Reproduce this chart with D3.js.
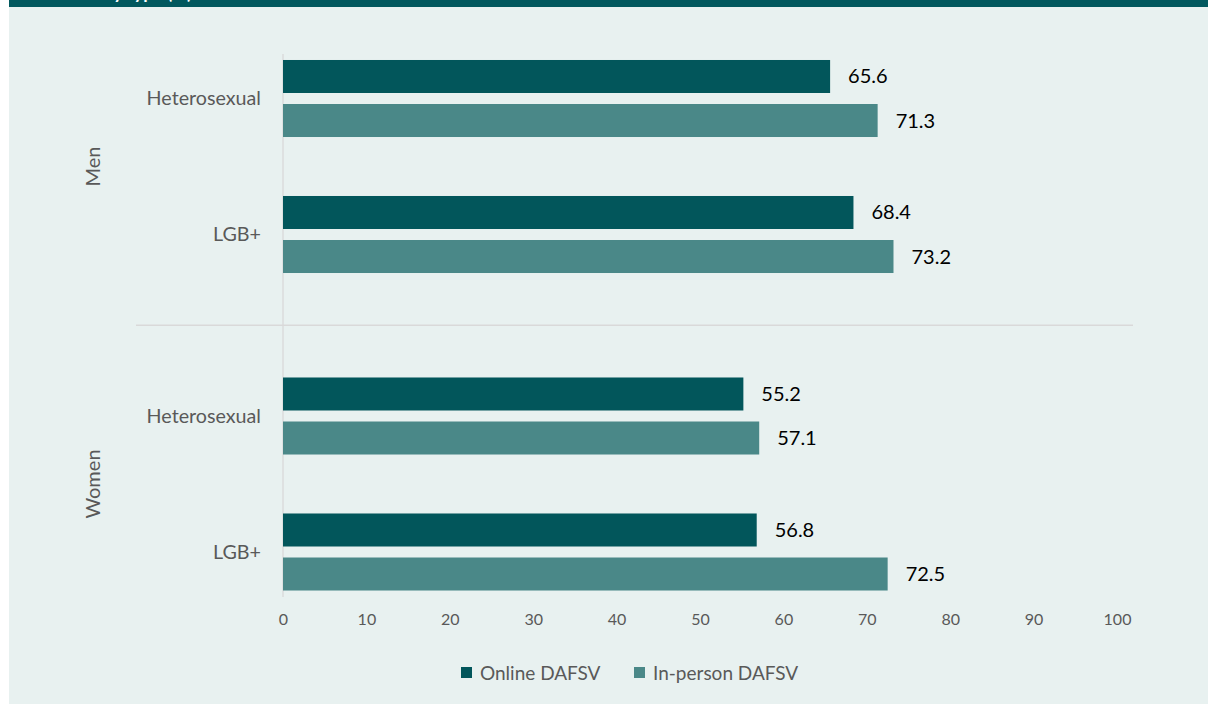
<!DOCTYPE html>
<html>
<head>
<meta charset="utf-8">
<script src="https://cdn.jsdelivr.net/npm/d3@7"></script>
<style>
  html, body { margin: 0; padding: 0; background: #ffffff; }
  svg { display: block; }
  text { font-family: Lato, "Open Sans", sans-serif; }
</style>
</head>
<body>
<div id="chart"></div>
<script>
// Groups, sub-categories and series
const groups = ["Men", "Women"];
const subgroups = ["Heterosexual", "LGB+"];
const seriesNames = ["Online DAFSV", "In-person DAFSV"];
const seriesColors = ["#02565b", "#4a8888"];

// Percentages per series, ordered Men/Hetero, Men/LGB+, Women/Hetero, Women/LGB+
const onlineValues = [65.6, 68.4, 55.2, 56.8];
const inPersonValues = [71.3, 73.2, 57.1, 72.5];

const xTicks = [0, 10, 20, 30, 40, 50, 60, 70, 80, 90, 100];

const rows = [];
groups.forEach((g, gi) => {
  subgroups.forEach((s, si) => {
    const idx = gi * subgroups.length + si;
    rows.push({ group: g, sub: s, values: [onlineValues[idx], inPersonValues[idx]] });
  });
});

const W = 1208, H = 704;
const svg = d3.select("#chart").append("svg").attr("width", W).attr("height", H);

// Panel background and header band
svg.append("rect").attr("x", 9).attr("y", 0).attr("width", W - 9).attr("height", H).attr("fill", "#e8f1f0");
svg.append("rect").attr("x", 9).attr("y", 0).attr("width", W - 9).attr("height", 7).attr("fill", "#01585e");
svg.append("clipPath").attr("id", "band-clip")
  .append("rect").attr("x", 9).attr("y", 0).attr("width", W - 9).attr("height", 7);
svg.append("text")
  .attr("clip-path", "url(#band-clip)")
  .attr("x", 192).attr("y", -1)
  .attr("text-anchor", "end")
  .attr("fill", "#ffffff")
  .attr("font-weight", "bold")
  .attr("font-size", 18)
  .text("DAFSV by type (%)");

// Scales
const x = d3.scaleLinear().domain([0, 100]).range([283, 1117]);
const yGroup = d3.scaleBand().domain(groups).range([7.75, 642.75]);
const ySub = d3.scaleBand().domain(subgroups).range([22.75, yGroup.bandwidth() - 22.75]);
const ySeries = d3.scaleBand().domain(d3.range(seriesNames.length))
  .range([0, ySub.bandwidth()]).paddingInner(0.25).paddingOuter(0.67);

// Group separator and value axis line
svg.append("line")
  .attr("x1", 136).attr("x2", 1133)
  .attr("y1", yGroup("Women")).attr("y2", yGroup("Women"))
  .attr("stroke", "#d9d9d9").attr("stroke-width", 1.3);
svg.append("line")
  .attr("x1", x(0)).attr("x2", x(0))
  .attr("y1", 54).attr("y2", 597)
  .attr("stroke", "#d9d9d9").attr("stroke-width", 1.3);

// Bars and value labels
const rowG = svg.append("g").selectAll("g").data(rows).join("g")
  .attr("transform", d => `translate(0,${yGroup(d.group) + ySub(d.sub)})`);

rowG.selectAll("rect").data(d => d.values).join("rect")
  .attr("x", x(0))
  .attr("y", (v, i) => ySeries(i))
  .attr("width", v => x(v) - x(0))
  .attr("height", ySeries.bandwidth())
  .attr("fill", (v, i) => seriesColors[i]);

rowG.selectAll("text.val").data(d => d.values).join("text")
  .attr("class", "val")
  .attr("x", v => x(v) + 18)
  .attr("y", (v, i) => ySeries(i) + ySeries.bandwidth() / 2)
  .attr("dy", "0.35em")
  .attr("font-size", 20)
  .attr("fill", "#000000")
  .text(v => v.toFixed(1));

// Sub-category labels
rowG.append("text")
  .attr("x", 261)
  .attr("y", ySub.bandwidth() / 2)
  .attr("dy", "0.35em")
  .attr("text-anchor", "end")
  .attr("font-size", 19.7)
  .attr("fill", "#595959")
  .text(d => d.sub);

// Group labels (rotated)
svg.append("g").selectAll("text").data(groups).join("text")
  .attr("transform", g => `translate(93,${yGroup(g) + yGroup.bandwidth() / 2}) rotate(-90)`)
  .attr("text-anchor", "middle")
  .attr("dy", "0.35em")
  .attr("font-size", 20)
  .attr("fill", "#595959")
  .text(g => g);

// Value axis ticks
const xAxis = svg.append("g")
  .attr("transform", "translate(0,597)")
  .call(d3.axisBottom(x).tickValues(xTicks).tickSize(0).tickPadding(17));
xAxis.select(".domain").remove();
xAxis.selectAll("text")
  .attr("font-size", 16)
  .attr("fill", "#595959")
  .attr("font-family", "Lato, 'Open Sans', sans-serif");

// Legend
const legendItems = [
  { name: seriesNames[0], color: seriesColors[0], x: 461 },
  { name: seriesNames[1], color: seriesColors[1], x: 634 }
];
const lg = svg.append("g").selectAll("g").data(legendItems).join("g")
  .attr("transform", d => `translate(${d.x},673)`);
lg.append("rect").attr("x", 0).attr("y", -6).attr("width", 11).attr("height", 11).attr("fill", d => d.color);
lg.append("text").attr("x", 19).attr("y", 0).attr("dy", "0.35em")
  .attr("font-size", 19).attr("fill", "#595959").text(d => d.name);
</script>
</body>
</html>
